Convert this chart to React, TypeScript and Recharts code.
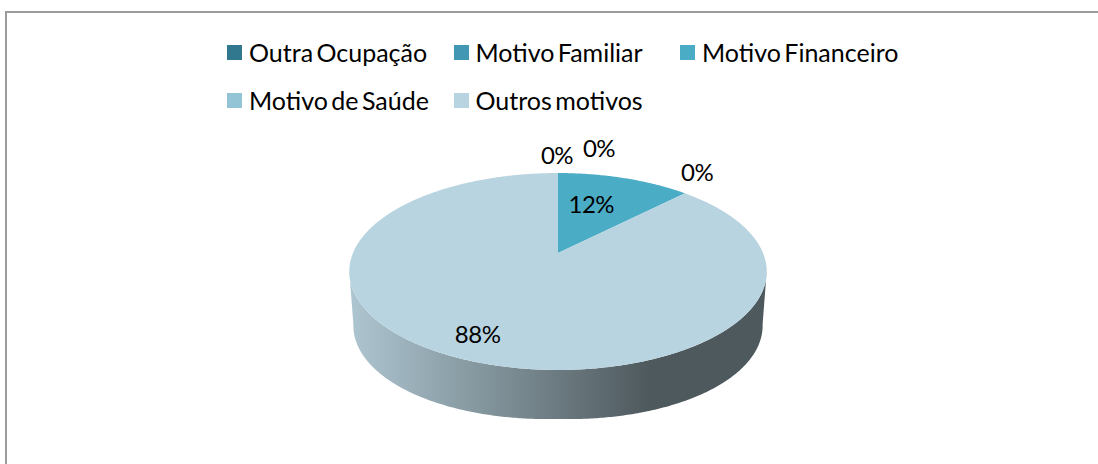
import React from "react";
import { PieChart, Pie, Cell, Legend } from "recharts";

const categories = ["Outra Ocupação", "Motivo Familiar", "Motivo Financeiro", "Motivo de Saúde", "Outros motivos"];
const shares = [0, 0, 12.4, 0, 87.6];
const colors = ["#31788f", "#4298b2", "#4bacc6", "#93c4d6", "#b9d4e1"];

const rows = categories.map((name, i) => ({ name, value: shares[i] }));

const FONT = "Lato, Carlito, sans-serif";
const TILT = 95 / 205;
const PERSPECTIVE = 0.1878;
const DEPTH = 54;
const LABEL_DEPTH = [1, 1, 0.6, 1, 0.8];
const LABEL_NUDGE = [[-1, -19], [41, -26], [-9, -2], [12, -22], [-8, -1]];

function project(cx: number, cy: number, r: number, deg: number, f = 1) {
  const t = (deg * Math.PI) / 180;
  const u = f * Math.sin(t);
  const v = f * Math.cos(t);
  const d = 1 + PERSPECTIVE * v;
  return [cx + (r * u) / d, cy - (r * TILT * v) / d];
}

function arcPoints(cx: number, cy: number, r: number, from: number, to: number) {
  const pts: number[][] = [];
  const n = Math.max(2, Math.ceil(Math.abs(to - from) * 2));
  for (let i = 0; i <= n; i++) pts.push(project(cx, cy, r, from + ((to - from) * i) / n));
  return pts;
}

const toPath = (pts: number[][]) => pts.map((p, i) => `${i ? "L" : "M"}${p[0].toFixed(2)} ${p[1].toFixed(2)}`).join(" ");

function Slice(props: any) {
  const { cx, cy, outerRadius, startAngle, endAngle, fill, index } = props;
  const from = 90 - startAngle;
  const to = 90 - endAngle;
  if (Math.abs(to - from) < 0.01) return <g />;
  const top = toPath([[cx, cy], ...arcPoints(cx, cy, outerRadius, from, to)]) + " Z";
  let wall = null;
  if (index === categories.length - 1) {
    const rim = arcPoints(cx, cy, outerRadius, 100, 260);
    const lowerTop = rim.map((p) => [cx + ((p[0] - cx) * (outerRadius - 4)) / outerRadius, p[1] + DEPTH - (1 - Math.abs(p[0] - cx) / outerRadius) * 5]);
    const extremeL = [cx - outerRadius * 1.018, cy + 18.5];
    const extremeR = [cx + outerRadius * 1.018, cy + 18.5];
    const d =
      toPath([extremeR, ...lowerTop, extremeL]) +
      " " +
      toPath(arcPoints(cx, cy, outerRadius, 262, 98)).replace(/^M/, "L") +
      " Z";
    wall = <path d={d} fill="url(#wallShade)" />;
  }
  return (
    <g>
      {wall}
      <path d={top} fill={fill} />
    </g>
  );
}

function SliceLabel(props: any) {
  const { cx, cy, outerRadius, midAngle, index, value } = props;
  const [x, y] = project(cx, cy, outerRadius, 90 - midAngle, LABEL_DEPTH[index]);
  const [dx, dy] = LABEL_NUDGE[index];
  return (
    <text x={x + dx} y={y + dy} textAnchor="middle" dominantBaseline="central" fontFamily={FONT} fontSize={24} letterSpacing={-0.5} fill="#000">
      {`${Math.round(value)}%`}
    </text>
  );
}

function LegendBlock() {
  return (
    <div style={{ display: "grid", gridTemplateColumns: "226.5px 226.5px 230px", rowGap: 0, fontFamily: FONT, fontSize: 25, wordSpacing: -3, color: "#000" }}>
      {categories.map((name, i) => (
        <div key={name} style={{ display: "flex", alignItems: "center", height: 48, whiteSpace: "nowrap" }}>
          <span style={{ width: 15, height: 15, background: colors[i], marginRight: 7, flex: "none" }} />
          <span>{name}</span>
        </div>
      ))}
    </div>
  );
}

export default function App() {
  return (
    <div style={{ position: "absolute", left: 0, top: 0, width: 1098, height: 464, background: "#fff", overflow: "hidden" }}>
      <div style={{ position: "absolute", left: 5, top: 11, width: 1200, height: 470, borderLeft: "2px solid #9c9c9c", borderTop: "2px solid #9c9c9c", boxSizing: "border-box" }} />
      <PieChart width={1098} height={464} margin={{ top: 0, right: 0, bottom: 0, left: 0 }} style={{ position: "absolute", left: 0, top: 0 }}>
        <defs>
          <linearGradient id="wallShade" x1="0" y1="0" x2="1" y2="0">
            <stop offset="0" stopColor="#aec6d1" />
            <stop offset="0.72" stopColor="#4e595d" />
            <stop offset="1" stopColor="#4e595d" />
          </linearGradient>
        </defs>
        <Legend
          layout="horizontal"
          verticalAlign="middle"
          align="center"
          content={<LegendBlock />}
          wrapperStyle={{ position: "absolute", left: 227, top: 28, width: 690, height: 96 }}
        />
        <Pie
          data={rows}
          dataKey="value"
          nameKey="name"
          cx={558}
          cy={253}
          outerRadius={205}
          startAngle={90}
          endAngle={-270}
          paddingAngle={0}
          stroke="none"
          isAnimationActive={false}
          labelLine={false}
          label={SliceLabel}
          shape={Slice}
        >
          {rows.map((r, i) => (
            <Cell key={r.name} fill={colors[i]} />
          ))}
        </Pie>
      </PieChart>
    </div>
  );
}
